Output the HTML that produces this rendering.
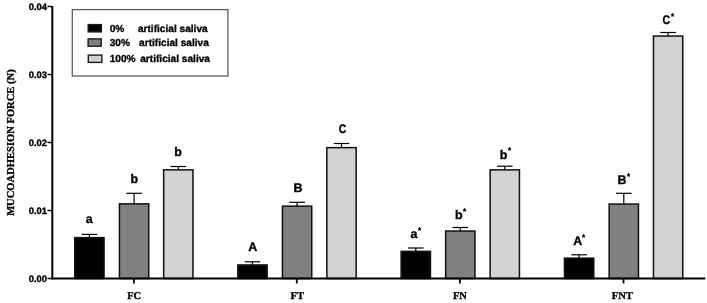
<!DOCTYPE html><html><head><meta charset="utf-8"><style>html,body{margin:0;padding:0;background:#fff;width:707px;height:303px;overflow:hidden}svg{display:block;filter:grayscale(1) blur(0.3px)}text{font-family:"Liberation Sans",sans-serif;font-weight:bold;stroke:#000;stroke-width:0.35px;text-rendering:geometricPrecision}.s{font-family:"Liberation Serif",serif;font-weight:bold}</style></head><body>
<svg width="707" height="303" viewBox="0 0 707 303">
<line x1="89.40" y1="234.40" x2="89.40" y2="237.90" stroke="#000" stroke-width="1.2"/>
<line x1="81.60" y1="234.40" x2="97.20" y2="234.40" stroke="#000" stroke-width="1.2"/>
<rect x="74.75" y="237.65" width="29.30" height="40.85" fill="#000" stroke="#111" stroke-width="1.5"/>
<line x1="134.10" y1="193.30" x2="134.10" y2="204.10" stroke="#000" stroke-width="1.2"/>
<line x1="126.30" y1="193.30" x2="141.90" y2="193.30" stroke="#000" stroke-width="1.2"/>
<rect x="119.45" y="203.85" width="29.30" height="74.65" fill="#808080" stroke="#111" stroke-width="1.5"/>
<line x1="178.30" y1="166.50" x2="178.30" y2="170.10" stroke="#000" stroke-width="1.2"/>
<line x1="170.50" y1="166.50" x2="186.10" y2="166.50" stroke="#000" stroke-width="1.2"/>
<rect x="163.65" y="169.85" width="29.30" height="108.65" fill="#d3d3d3" stroke="#111" stroke-width="1.5"/>
<line x1="252.50" y1="261.80" x2="252.50" y2="265.20" stroke="#000" stroke-width="1.2"/>
<line x1="244.70" y1="261.80" x2="260.30" y2="261.80" stroke="#000" stroke-width="1.2"/>
<rect x="237.85" y="264.95" width="29.30" height="13.55" fill="#000" stroke="#111" stroke-width="1.5"/>
<line x1="297.10" y1="202.30" x2="297.10" y2="206.40" stroke="#000" stroke-width="1.2"/>
<line x1="289.30" y1="202.30" x2="304.90" y2="202.30" stroke="#000" stroke-width="1.2"/>
<rect x="282.45" y="206.15" width="29.30" height="72.35" fill="#808080" stroke="#111" stroke-width="1.5"/>
<line x1="341.50" y1="143.50" x2="341.50" y2="147.90" stroke="#000" stroke-width="1.2"/>
<line x1="333.70" y1="143.50" x2="349.30" y2="143.50" stroke="#000" stroke-width="1.2"/>
<rect x="326.85" y="147.65" width="29.30" height="130.85" fill="#d3d3d3" stroke="#111" stroke-width="1.5"/>
<line x1="415.80" y1="248.00" x2="415.80" y2="251.60" stroke="#000" stroke-width="1.2"/>
<line x1="408.00" y1="248.00" x2="423.60" y2="248.00" stroke="#000" stroke-width="1.2"/>
<rect x="401.15" y="251.35" width="29.30" height="27.15" fill="#000" stroke="#111" stroke-width="1.5"/>
<line x1="460.30" y1="227.50" x2="460.30" y2="231.30" stroke="#000" stroke-width="1.2"/>
<line x1="452.50" y1="227.50" x2="468.10" y2="227.50" stroke="#000" stroke-width="1.2"/>
<rect x="445.65" y="231.05" width="29.30" height="47.45" fill="#808080" stroke="#111" stroke-width="1.5"/>
<line x1="504.80" y1="166.20" x2="504.80" y2="170.10" stroke="#000" stroke-width="1.2"/>
<line x1="497.00" y1="166.20" x2="512.60" y2="166.20" stroke="#000" stroke-width="1.2"/>
<rect x="490.15" y="169.85" width="29.30" height="108.65" fill="#d3d3d3" stroke="#111" stroke-width="1.5"/>
<line x1="579.10" y1="254.80" x2="579.10" y2="258.40" stroke="#000" stroke-width="1.2"/>
<line x1="571.30" y1="254.80" x2="586.90" y2="254.80" stroke="#000" stroke-width="1.2"/>
<rect x="564.45" y="258.15" width="29.30" height="20.35" fill="#000" stroke="#111" stroke-width="1.5"/>
<line x1="623.80" y1="193.30" x2="623.80" y2="204.30" stroke="#000" stroke-width="1.2"/>
<line x1="616.00" y1="193.30" x2="631.60" y2="193.30" stroke="#000" stroke-width="1.2"/>
<rect x="609.15" y="204.05" width="29.30" height="74.45" fill="#808080" stroke="#111" stroke-width="1.5"/>
<line x1="668.10" y1="32.50" x2="668.10" y2="36.30" stroke="#000" stroke-width="1.2"/>
<line x1="660.30" y1="32.50" x2="675.90" y2="32.50" stroke="#000" stroke-width="1.2"/>
<rect x="653.45" y="36.05" width="29.30" height="242.45" fill="#d3d3d3" stroke="#111" stroke-width="1.5"/>
<line x1="52.3" y1="5.9" x2="52.3" y2="279.5" stroke="#000" stroke-width="2"/>
<line x1="51.3" y1="278.5" x2="705.3" y2="278.5" stroke="#000" stroke-width="2"/>
<line x1="47.5" y1="278.5" x2="52" y2="278.5" stroke="#000" stroke-width="1.4"/>
<text x="46.85" y="281.9" font-size="9.3" text-anchor="end">0.00</text>
<line x1="47.5" y1="210.5" x2="52" y2="210.5" stroke="#000" stroke-width="1.4"/>
<text x="46.85" y="213.9" font-size="9.3" text-anchor="end">0.01</text>
<line x1="47.5" y1="142.5" x2="52" y2="142.5" stroke="#000" stroke-width="1.4"/>
<text x="46.85" y="145.9" font-size="9.3" text-anchor="end">0.02</text>
<line x1="47.5" y1="74.5" x2="52" y2="74.5" stroke="#000" stroke-width="1.4"/>
<text x="46.85" y="77.9" font-size="9.3" text-anchor="end">0.03</text>
<line x1="47.5" y1="6.5" x2="52" y2="6.5" stroke="#000" stroke-width="1.4"/>
<text x="46.85" y="9.9" font-size="9.3" text-anchor="end">0.04</text>
<line x1="133.9" y1="278.5" x2="133.9" y2="283.5" stroke="#000" stroke-width="1.8"/>
<text class="s" x="134.15" y="299.3" font-size="10.5" text-anchor="middle">FC</text>
<line x1="296.8" y1="278.5" x2="296.8" y2="283.5" stroke="#000" stroke-width="1.8"/>
<text class="s" x="297.20" y="299.3" font-size="10.5" text-anchor="middle">FT</text>
<line x1="459.9" y1="278.5" x2="459.9" y2="283.5" stroke="#000" stroke-width="1.8"/>
<text class="s" x="459.90" y="299.3" font-size="10.5" text-anchor="middle">FN</text>
<line x1="623.5" y1="278.5" x2="623.5" y2="283.5" stroke="#000" stroke-width="1.8"/>
<text class="s" x="622.30" y="299.3" font-size="10.5" text-anchor="middle">FNT</text>
<text x="89.28" y="223.33" font-size="12.4" text-anchor="middle">a</text>
<text x="134.19" y="182.88" font-size="12.4" text-anchor="middle">b</text>
<text x="178.09" y="155.88" font-size="12.4" text-anchor="middle">b</text>
<text x="252.76" y="251.32" font-size="12.4" text-anchor="middle">A</text>
<text x="298.07" y="191.82" font-size="12.4" text-anchor="middle">B</text>
<text transform="translate(342.43,132.77) scale(0.85,1)" font-size="12.4" text-anchor="middle">C</text>
<text x="413.83" y="238.48" font-size="12.4" text-anchor="middle">a</text>
<text x="419.50" y="233.22" font-size="8" text-anchor="middle">*</text>
<text x="458.70" y="219.23" font-size="12.4" text-anchor="middle">b</text>
<text x="464.55" y="213.62" font-size="8" text-anchor="middle">*</text>
<text x="503.50" y="158.68" font-size="12.4" text-anchor="middle">b</text>
<text x="509.50" y="153.12" font-size="8" text-anchor="middle">*</text>
<text x="577.71" y="245.17" font-size="12.4" text-anchor="middle">A</text>
<text x="583.65" y="240.27" font-size="8" text-anchor="middle">*</text>
<text x="621.97" y="184.17" font-size="12.4" text-anchor="middle">B</text>
<text x="628.45" y="179.42" font-size="8" text-anchor="middle">*</text>
<text transform="translate(666.23,24.17) scale(0.85,1)" font-size="12.4" text-anchor="middle">C</text>
<text x="672.50" y="19.42" font-size="8" text-anchor="middle">*</text>
<rect x="72.3" y="9.6" width="155.6" height="66.4" fill="none" stroke="#5e5e5e" stroke-width="1.3"/>
<rect x="88.20" y="24.60" width="13.20" height="7.3" fill="#000" stroke="#1a1a1a" stroke-width="1.4"/>
<rect x="88.10" y="38.90" width="13.10" height="7.3" fill="#808080" stroke="#1a1a1a" stroke-width="1.4"/>
<rect x="88.30" y="55.10" width="13.60" height="7.3" fill="#d3d3d3" stroke="#1a1a1a" stroke-width="1.4"/>
<text x="109.7" y="31.8" font-size="10.15">0%</text><text x="137.9" y="31.8" font-size="10.15">artificial saliva</text>
<text x="109.7" y="46.2" font-size="10.15">30%</text><text x="139.1" y="46.2" font-size="10.15">artificial saliva</text>
<text x="109.7" y="62.2" font-size="10.15">100%</text><text x="140.2" y="62.2" font-size="10.15">artificial saliva</text>
<text class="s" transform="translate(13.8,142.6) rotate(-90)" font-size="10.55" text-anchor="middle">MUCOADHESION FORCE (N)</text>
</svg></body></html>
